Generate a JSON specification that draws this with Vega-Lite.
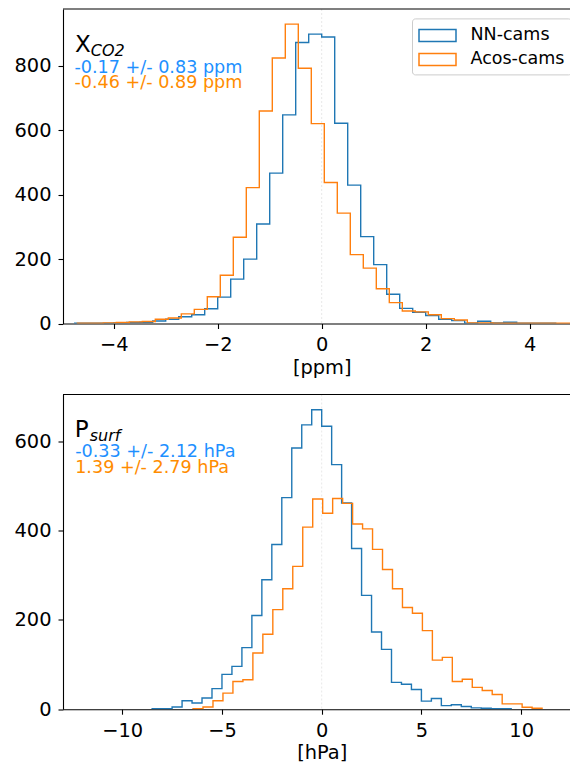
{
  "$schema": "https://vega.github.io/schema/vega-lite/v6.json",
  "padding": {"left": 13, "top": 8, "right": 0, "bottom": 0},
  "spacing": 15.5,
  "config": {
    "font": "DejaVu Sans",
    "view": {"stroke": null},
    "axis": {
      "domainColor": "black", "domainWidth": 1.1,
      "tickColor": "black", "tickSize": 5, "tickWidth": 1.1,
      "labelColor": "black", "labelFont": "DejaVu Sans", "labelFontSize": 19.4,
      "titleColor": "black", "titleFont": "DejaVu Sans", "titleFontSize": 19.4, "titleFontWeight": "normal",
      "labelPadding": 7, "titlePadding": 5, "grid": false, "labelFlush": false, "labelOverlap": false
    }
  },
  "resolve": {"scale": {"color": "independent"}, "legend": {"color": "independent"}},
  "vconcat": [
    {
      "width": 507,
      "height": 314.5,
      "layer": [
        {
          "data": {"values": [{}]},
          "mark": {"type": "rule", "color": "#e8e8e8", "strokeDash": [2, 2], "strokeWidth": 1},
          "encoding": {"x": {"datum": 0, "type": "quantitative"}}
        },
        {
          "data": {"values": [
            {"series": "NN-cams", "edge": -4.75, "count": 0, "i": 0},
            {"series": "NN-cams", "edge": -4.75, "count": 1, "i": 1},
            {"series": "NN-cams", "edge": -4.5, "count": 1, "i": 2},
            {"series": "NN-cams", "edge": -4.25, "count": 1, "i": 3},
            {"series": "NN-cams", "edge": -4.0, "count": 2, "i": 4},
            {"series": "NN-cams", "edge": -3.75, "count": 3, "i": 5},
            {"series": "NN-cams", "edge": -3.5, "count": 4, "i": 6},
            {"series": "NN-cams", "edge": -3.25, "count": 8, "i": 7},
            {"series": "NN-cams", "edge": -3.0, "count": 13, "i": 8},
            {"series": "NN-cams", "edge": -2.75, "count": 21, "i": 9},
            {"series": "NN-cams", "edge": -2.5, "count": 27, "i": 10},
            {"series": "NN-cams", "edge": -2.25, "count": 46, "i": 11},
            {"series": "NN-cams", "edge": -2.0, "count": 82, "i": 12},
            {"series": "NN-cams", "edge": -1.75, "count": 138, "i": 13},
            {"series": "NN-cams", "edge": -1.5, "count": 200, "i": 14},
            {"series": "NN-cams", "edge": -1.25, "count": 309, "i": 15},
            {"series": "NN-cams", "edge": -1.0, "count": 467, "i": 16},
            {"series": "NN-cams", "edge": -0.75, "count": 648, "i": 17},
            {"series": "NN-cams", "edge": -0.5, "count": 873, "i": 18},
            {"series": "NN-cams", "edge": -0.25, "count": 899, "i": 19},
            {"series": "NN-cams", "edge": 0.0, "count": 890, "i": 20},
            {"series": "NN-cams", "edge": 0.25, "count": 622, "i": 21},
            {"series": "NN-cams", "edge": 0.5, "count": 430, "i": 22},
            {"series": "NN-cams", "edge": 0.75, "count": 270, "i": 23},
            {"series": "NN-cams", "edge": 1.0, "count": 183, "i": 24},
            {"series": "NN-cams", "edge": 1.25, "count": 91, "i": 25},
            {"series": "NN-cams", "edge": 1.5, "count": 47, "i": 26},
            {"series": "NN-cams", "edge": 1.75, "count": 35, "i": 27},
            {"series": "NN-cams", "edge": 2.0, "count": 25, "i": 28},
            {"series": "NN-cams", "edge": 2.25, "count": 13, "i": 29},
            {"series": "NN-cams", "edge": 2.5, "count": 9, "i": 30},
            {"series": "NN-cams", "edge": 2.75, "count": 1, "i": 31},
            {"series": "NN-cams", "edge": 3.0, "count": 7, "i": 32},
            {"series": "NN-cams", "edge": 3.25, "count": 2, "i": 33},
            {"series": "NN-cams", "edge": 3.5, "count": 4, "i": 34},
            {"series": "NN-cams", "edge": 3.75, "count": 1, "i": 35},
            {"series": "NN-cams", "edge": 4.0, "count": 1, "i": 36},
            {"series": "NN-cams", "edge": 4.25, "count": 1, "i": 37},
            {"series": "NN-cams", "edge": 4.5, "count": 0, "i": 38},
            {"series": "Acos-cams", "edge": -4.7, "count": 0, "i": 0},
            {"series": "Acos-cams", "edge": -4.7, "count": 1, "i": 1},
            {"series": "Acos-cams", "edge": -4.45, "count": 1, "i": 2},
            {"series": "Acos-cams", "edge": -4.2, "count": 2, "i": 3},
            {"series": "Acos-cams", "edge": -3.95, "count": 3, "i": 4},
            {"series": "Acos-cams", "edge": -3.7, "count": 5, "i": 5},
            {"series": "Acos-cams", "edge": -3.45, "count": 6, "i": 6},
            {"series": "Acos-cams", "edge": -3.2, "count": 13, "i": 7},
            {"series": "Acos-cams", "edge": -2.95, "count": 17, "i": 8},
            {"series": "Acos-cams", "edge": -2.7, "count": 30, "i": 9},
            {"series": "Acos-cams", "edge": -2.45, "count": 44, "i": 10},
            {"series": "Acos-cams", "edge": -2.2, "count": 83, "i": 11},
            {"series": "Acos-cams", "edge": -1.95, "count": 150, "i": 12},
            {"series": "Acos-cams", "edge": -1.7, "count": 268, "i": 13},
            {"series": "Acos-cams", "edge": -1.45, "count": 422, "i": 14},
            {"series": "Acos-cams", "edge": -1.2, "count": 660, "i": 15},
            {"series": "Acos-cams", "edge": -0.95, "count": 825, "i": 16},
            {"series": "Acos-cams", "edge": -0.7, "count": 930, "i": 17},
            {"series": "Acos-cams", "edge": -0.45, "count": 793, "i": 18},
            {"series": "Acos-cams", "edge": -0.2, "count": 621, "i": 19},
            {"series": "Acos-cams", "edge": 0.05, "count": 438, "i": 20},
            {"series": "Acos-cams", "edge": 0.3, "count": 343, "i": 21},
            {"series": "Acos-cams", "edge": 0.55, "count": 214, "i": 22},
            {"series": "Acos-cams", "edge": 0.8, "count": 172, "i": 23},
            {"series": "Acos-cams", "edge": 1.05, "count": 108, "i": 24},
            {"series": "Acos-cams", "edge": 1.3, "count": 65, "i": 25},
            {"series": "Acos-cams", "edge": 1.55, "count": 39, "i": 26},
            {"series": "Acos-cams", "edge": 1.8, "count": 36, "i": 27},
            {"series": "Acos-cams", "edge": 2.05, "count": 27, "i": 28},
            {"series": "Acos-cams", "edge": 2.3, "count": 15, "i": 29},
            {"series": "Acos-cams", "edge": 2.55, "count": 11, "i": 30},
            {"series": "Acos-cams", "edge": 2.8, "count": 2, "i": 31},
            {"series": "Acos-cams", "edge": 3.05, "count": 2, "i": 32},
            {"series": "Acos-cams", "edge": 3.3, "count": 1, "i": 33},
            {"series": "Acos-cams", "edge": 3.55, "count": 1, "i": 34},
            {"series": "Acos-cams", "edge": 3.8, "count": 1, "i": 35},
            {"series": "Acos-cams", "edge": 4.05, "count": 1, "i": 36},
            {"series": "Acos-cams", "edge": 4.3, "count": 1, "i": 37},
            {"series": "Acos-cams", "edge": 4.55, "count": 1, "i": 38},
            {"series": "Acos-cams", "edge": 4.8, "count": 0, "i": 39}
          ]},
          "mark": {"type": "line", "interpolate": "step-after", "strokeWidth": 1.4, "clip": true},
          "encoding": {
            "x": {"field": "edge", "type": "quantitative",
                  "scale": {"domain": [-4.975, 4.775], "nice": false, "zero": false},
                  "axis": {"values": [-4, -2, 0, 2, 4], "title": "[ppm]", "titleX": 258.7}},
            "y": {"field": "count", "type": "quantitative",
                  "scale": {"domain": [0, 977], "nice": false},
                  "axis": {"values": [0, 200, 400, 600, 800], "title": null}},
            "color": {"field": "series", "type": "nominal",
                      "scale": {"domain": ["NN-cams", "Acos-cams"], "range": ["#1f77b4", "#ff7f0e"]},
                      "legend": {"title": null, "orient": "none", "legendX": 349, "legendY": 9.4,
                                 "symbolType": "M-1,-0.6H2.7V0.6H-1Z", "symbolSize": 400,
                                 "symbolStrokeWidth": 1.5, "symbolFillColor": "white",
                                 "labelFont": "DejaVu Sans", "labelFontSize": 17.5, "labelColor": "black",
                                 "labelOffset": 30.5, "symbolOffset": 0, "padding": 6, "rowPadding": 4,
                                 "strokeColor": "#cccccc", "fillColor": "white", "cornerRadius": 3}},
            "order": {"field": "i"}
          }
        },
        {
          "data": {"values": [{}]},
          "mark": {"type": "rule", "color": "black", "strokeWidth": 1.1},
          "encoding": {"y": {"datum": 977, "type": "quantitative"}}
        },
        {
          "data": {"values": [{"x": -4.745, "y": 842, "label": "X"}]},
          "mark": {"type": "text", "align": "left", "baseline": "alphabetic", "fontSize": 23, "color": "black"},
          "encoding": {"x": {"field": "x", "type": "quantitative"}, "y": {"field": "y", "type": "quantitative"}, "text": {"field": "label"}}
        },
        {
          "data": {"values": [{"x": -4.745, "y": 842, "label": "CO2"}]},
          "mark": {"type": "text", "align": "left", "baseline": "alphabetic", "fontSize": 16, "fontStyle": "italic", "color": "black", "dx": 15.8, "dy": 3.5},
          "encoding": {"x": {"field": "x", "type": "quantitative"}, "y": {"field": "y", "type": "quantitative"}, "text": {"field": "label"}}
        },
        {
          "data": {"values": [{"x": -4.755, "y": 779.6, "label": "-0.17 +/- 0.83 ppm"}]},
          "mark": {"type": "text", "align": "left", "baseline": "alphabetic", "fontSize": 17.6, "color": "#1e90ff"},
          "encoding": {"x": {"field": "x", "type": "quantitative"}, "y": {"field": "y", "type": "quantitative"}, "text": {"field": "label"}}
        },
        {
          "data": {"values": [{"x": -4.755, "y": 733, "label": "-0.46 +/- 0.89 ppm"}]},
          "mark": {"type": "text", "align": "left", "baseline": "alphabetic", "fontSize": 17.6, "color": "#ff8c00"},
          "encoding": {"x": {"field": "x", "type": "quantitative"}, "y": {"field": "y", "type": "quantitative"}, "text": {"field": "label"}}
        }
      ]
    },
    {
      "width": 507,
      "height": 314.7,
      "layer": [
        {
          "data": {"values": [{}]},
          "mark": {"type": "rule", "color": "#e8e8e8", "strokeDash": [2, 2], "strokeWidth": 1},
          "encoding": {"x": {"datum": 0, "type": "quantitative"}}
        },
        {
          "data": {"values": [
            {"series": "NN-cams", "edge": -8.5, "count": 0, "i": 0},
            {"series": "NN-cams", "edge": -8.5, "count": 1, "i": 1},
            {"series": "NN-cams", "edge": -8.0, "count": 1, "i": 2},
            {"series": "NN-cams", "edge": -7.5, "count": 5, "i": 3},
            {"series": "NN-cams", "edge": -7.0, "count": 19, "i": 4},
            {"series": "NN-cams", "edge": -6.5, "count": 14, "i": 5},
            {"series": "NN-cams", "edge": -6.0, "count": 25, "i": 6},
            {"series": "NN-cams", "edge": -5.5, "count": 46, "i": 7},
            {"series": "NN-cams", "edge": -5.0, "count": 78, "i": 8},
            {"series": "NN-cams", "edge": -4.5, "count": 96, "i": 9},
            {"series": "NN-cams", "edge": -4.0, "count": 138, "i": 10},
            {"series": "NN-cams", "edge": -3.5, "count": 210, "i": 11},
            {"series": "NN-cams", "edge": -3.0, "count": 290, "i": 12},
            {"series": "NN-cams", "edge": -2.5, "count": 369, "i": 13},
            {"series": "NN-cams", "edge": -2.0, "count": 474, "i": 14},
            {"series": "NN-cams", "edge": -1.5, "count": 585, "i": 15},
            {"series": "NN-cams", "edge": -1.0, "count": 637, "i": 16},
            {"series": "NN-cams", "edge": -0.5, "count": 671, "i": 17},
            {"series": "NN-cams", "edge": 0.0, "count": 634, "i": 18},
            {"series": "NN-cams", "edge": 0.5, "count": 548, "i": 19},
            {"series": "NN-cams", "edge": 1.0, "count": 462, "i": 20},
            {"series": "NN-cams", "edge": 1.5, "count": 360, "i": 21},
            {"series": "NN-cams", "edge": 2.0, "count": 255, "i": 22},
            {"series": "NN-cams", "edge": 2.5, "count": 173, "i": 23},
            {"series": "NN-cams", "edge": 3.0, "count": 134, "i": 24},
            {"series": "NN-cams", "edge": 3.5, "count": 60, "i": 25},
            {"series": "NN-cams", "edge": 4.0, "count": 56, "i": 26},
            {"series": "NN-cams", "edge": 4.5, "count": 44, "i": 27},
            {"series": "NN-cams", "edge": 5.0, "count": 18, "i": 28},
            {"series": "NN-cams", "edge": 5.5, "count": 24, "i": 29},
            {"series": "NN-cams", "edge": 6.0, "count": 8, "i": 30},
            {"series": "NN-cams", "edge": 6.5, "count": 10, "i": 31},
            {"series": "NN-cams", "edge": 7.0, "count": 6, "i": 32},
            {"series": "NN-cams", "edge": 7.5, "count": 3, "i": 33},
            {"series": "NN-cams", "edge": 8.0, "count": 2, "i": 34},
            {"series": "NN-cams", "edge": 8.5, "count": 1, "i": 35},
            {"series": "NN-cams", "edge": 9.0, "count": 1, "i": 36},
            {"series": "NN-cams", "edge": 9.5, "count": 0, "i": 37},
            {"series": "Acos-cams", "edge": -6.45, "count": 0, "i": 0},
            {"series": "Acos-cams", "edge": -6.45, "count": 1, "i": 1},
            {"series": "Acos-cams", "edge": -5.95, "count": 5, "i": 2},
            {"series": "Acos-cams", "edge": -5.45, "count": 19, "i": 3},
            {"series": "Acos-cams", "edge": -4.95, "count": 36, "i": 4},
            {"series": "Acos-cams", "edge": -4.45, "count": 62, "i": 5},
            {"series": "Acos-cams", "edge": -3.95, "count": 66, "i": 6},
            {"series": "Acos-cams", "edge": -3.45, "count": 126, "i": 7},
            {"series": "Acos-cams", "edge": -2.95, "count": 168, "i": 8},
            {"series": "Acos-cams", "edge": -2.45, "count": 223, "i": 9},
            {"series": "Acos-cams", "edge": -1.95, "count": 270, "i": 10},
            {"series": "Acos-cams", "edge": -1.45, "count": 320, "i": 11},
            {"series": "Acos-cams", "edge": -0.95, "count": 408, "i": 12},
            {"series": "Acos-cams", "edge": -0.45, "count": 471, "i": 13},
            {"series": "Acos-cams", "edge": 0.05, "count": 439, "i": 14},
            {"series": "Acos-cams", "edge": 0.55, "count": 472, "i": 15},
            {"series": "Acos-cams", "edge": 1.05, "count": 461, "i": 16},
            {"series": "Acos-cams", "edge": 1.55, "count": 415, "i": 17},
            {"series": "Acos-cams", "edge": 2.05, "count": 404, "i": 18},
            {"series": "Acos-cams", "edge": 2.55, "count": 358, "i": 19},
            {"series": "Acos-cams", "edge": 3.05, "count": 313, "i": 20},
            {"series": "Acos-cams", "edge": 3.55, "count": 270, "i": 21},
            {"series": "Acos-cams", "edge": 4.05, "count": 228, "i": 22},
            {"series": "Acos-cams", "edge": 4.55, "count": 215, "i": 23},
            {"series": "Acos-cams", "edge": 5.05, "count": 176, "i": 24},
            {"series": "Acos-cams", "edge": 5.55, "count": 110, "i": 25},
            {"series": "Acos-cams", "edge": 6.05, "count": 116, "i": 26},
            {"series": "Acos-cams", "edge": 6.55, "count": 62, "i": 27},
            {"series": "Acos-cams", "edge": 7.05, "count": 67, "i": 28},
            {"series": "Acos-cams", "edge": 7.55, "count": 49, "i": 29},
            {"series": "Acos-cams", "edge": 8.05, "count": 42, "i": 30},
            {"series": "Acos-cams", "edge": 8.55, "count": 33, "i": 31},
            {"series": "Acos-cams", "edge": 9.05, "count": 12, "i": 32},
            {"series": "Acos-cams", "edge": 9.55, "count": 12, "i": 33},
            {"series": "Acos-cams", "edge": 10.05, "count": 4.5, "i": 34},
            {"series": "Acos-cams", "edge": 10.55, "count": 2, "i": 35},
            {"series": "Acos-cams", "edge": 11.05, "count": 0, "i": 36}
          ]},
          "mark": {"type": "line", "interpolate": "step-after", "strokeWidth": 1.4, "clip": true},
          "encoding": {
            "x": {"field": "edge", "type": "quantitative",
                  "scale": {"domain": [-12.97, 12.45], "nice": false, "zero": false},
                  "axis": {"values": [-10, -5, 0, 5, 10], "title": "[hPa]", "titleX": 258.7, "titlePadding": 4}},
            "y": {"field": "count", "type": "quantitative",
                  "scale": {"domain": [0, 705], "nice": false},
                  "axis": {"values": [0, 200, 400, 600], "title": null}},
            "color": {"field": "series", "type": "nominal",
                      "scale": {"domain": ["NN-cams", "Acos-cams"], "range": ["#1f77b4", "#ff7f0e"]},
                      "legend": null},
            "order": {"field": "i"}
          }
        },
        {
          "data": {"values": [{}]},
          "mark": {"type": "rule", "color": "black", "strokeWidth": 1.1},
          "encoding": {"y": {"datum": 705, "type": "quantitative"}}
        },
        {
          "data": {"values": [{"x": -12.38, "y": 609, "label": "P"}]},
          "mark": {"type": "text", "align": "left", "baseline": "alphabetic", "fontSize": 23, "color": "black"},
          "encoding": {"x": {"field": "x", "type": "quantitative"}, "y": {"field": "y", "type": "quantitative"}, "text": {"field": "label"}}
        },
        {
          "data": {"values": [{"x": -12.38, "y": 609, "label": "surf"}]},
          "mark": {"type": "text", "align": "left", "baseline": "alphabetic", "fontSize": 16, "fontStyle": "italic", "color": "black", "dx": 15, "dy": 3.8},
          "encoding": {"x": {"field": "x", "type": "quantitative"}, "y": {"field": "y", "type": "quantitative"}, "text": {"field": "label"}}
        },
        {
          "data": {"values": [{"x": -12.36, "y": 564, "label": "-0.33 +/- 2.12 hPa"}]},
          "mark": {"type": "text", "align": "left", "baseline": "alphabetic", "fontSize": 17.6, "color": "#1e90ff"},
          "encoding": {"x": {"field": "x", "type": "quantitative"}, "y": {"field": "y", "type": "quantitative"}, "text": {"field": "label"}}
        },
        {
          "data": {"values": [{"x": -12.36, "y": 528.3, "label": "1.39 +/- 2.79 hPa"}]},
          "mark": {"type": "text", "align": "left", "baseline": "alphabetic", "fontSize": 17.6, "color": "#ff8c00"},
          "encoding": {"x": {"field": "x", "type": "quantitative"}, "y": {"field": "y", "type": "quantitative"}, "text": {"field": "label"}}
        }
      ]
    }
  ]
}
